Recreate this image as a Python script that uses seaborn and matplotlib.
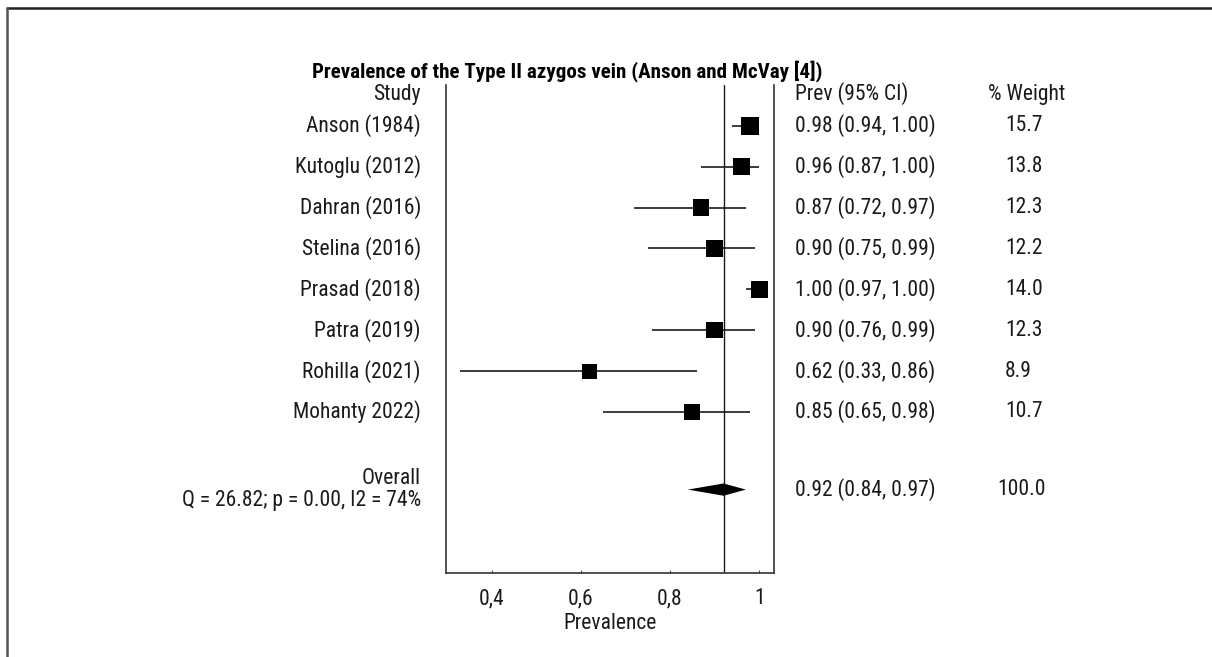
import matplotlib
matplotlib.use("Agg")
import matplotlib.pyplot as plt
import matplotlib.transforms as mtransforms
from matplotlib.lines import Line2D
import seaborn as sns
import pandas as pd
import numpy as np
from matplotlib import font_manager

# ---------------- data ----------------
studies = ["Anson (1984)", "Kutoglu (2012)", "Dahran (2016)", "Stelina (2016)",
           "Prasad (2018)", "Patra (2019)", "Rohilla (2021)", "Mohanty 2022)"]
prev = [0.98, 0.96, 0.87, 0.90, 1.00, 0.90, 0.62, 0.85]
ci_low = [0.94, 0.87, 0.72, 0.75, 0.97, 0.76, 0.33, 0.65]
ci_high = [1.00, 1.00, 0.97, 0.99, 1.00, 0.99, 0.86, 0.98]
weights = [15.7, 13.8, 12.3, 12.2, 14.0, 12.3, 8.9, 10.7]

overall_prev = 0.92
overall_low = 0.84
overall_high = 0.97
overall_weight = 100.0
heterogeneity = "Q = 26.82; p = 0.00, I2 = 74%"

tick_values = [0.4, 0.6, 0.8, 1.0]
tick_labels = ["0,4", "0,6", "0,8", "1"]

title = "Prevalence of the Type II azygos vein (Anson and McVay [4])"

# ---------------- style ----------------
sns.set_theme(style="white")
avail = {f.name for f in font_manager.fontManager.ttflist}
fam = "Roboto Condensed" if "Roboto Condensed" in avail else "Liberation Sans"
plt.rcParams["font.family"] = [fam, "DejaVu Sans"]
INK = "#1a1a1a"

fig = plt.figure(figsize=(12.12, 6.57), dpi=100)
renderer = fig.canvas.get_renderer()


def fit_size(text, target_px, weight="normal", base=13.0):
    t = fig.text(0, 0, text, fontsize=base, fontweight=weight)
    w = t.get_window_extent(renderer).width
    t.remove()
    return base * target_px / w


FS = fit_size("0.98 (0.94, 1.00)", 140)
FS_T = fit_size(title, 508, weight="bold")

df = pd.DataFrame({"study": studies, "prev": prev, "lo": ci_low,
                   "hi": ci_high, "w": weights, "row": np.arange(len(studies))})
overall_row = 8.9

ax = fig.add_axes([0.368, 0.1279, 0.2706, 0.7427])

# CI lines
ax.hlines(df["row"], df["lo"], df["hi"], color=INK, lw=1.2, zorder=2)
# squares
sns.scatterplot(data=df, x="prev", y="row", size="w", sizes=(118, 162),
                size_norm=(min(weights), max(weights)), marker="s",
                color="black", edgecolor="black", linewidth=0, legend=False,
                ax=ax, zorder=3)
# overall line
ax.axvline(overall_prev, color=INK, lw=1.0, zorder=1)
# diamond
dh = 0.15
ax.fill([overall_low, overall_prev, overall_high, overall_prev],
        [overall_row, overall_row - dh, overall_row, overall_row + dh],
        color="black", lw=0, zorder=3)

ax.set_xlim(0.298, 1.033)
ax.set_ylim(10.94, -1.0)
ax.set_yticks([])
ax.set_xticks(tick_values)
ax.set_xticklabels(tick_labels, fontsize=FS)
ax.tick_params(axis="x", direction="in", length=2, width=0.8, color="#555555",
               pad=11, labelcolor=INK, bottom=True)
ax.set_xlabel("Prevalence", fontsize=FS, color=INK, labelpad=3)
ax.set_ylabel("")
for s in ["left", "right", "bottom"]:
    ax.spines[s].set_visible(True)
    ax.spines[s].set_color("#333333")
    ax.spines[s].set_linewidth(1.2)
ax.spines["top"].set_visible(False)

# ---------------- text columns ----------------
tr = mtransforms.blended_transform_factory(fig.transFigure, ax.transData)
x_study = 421 / 1212
x_prev = 795 / 1212
x_wt = 1005 / 1212
x_wt_head = 988 / 1212
x_wt_over = 997 / 1212
head_row = -0.78

kw = dict(fontsize=FS, color=INK, transform=tr, clip_on=False, va="center")
ax.text(x_study, head_row, "Study", ha="right", **kw)
ax.text(x_prev, head_row, "Prev (95% CI)", ha="left", **kw)
ax.text(x_wt_head, head_row, "% Weight", ha="left", **kw)

for i, r in df.iterrows():
    ax.text(x_study, r["row"], r["study"], ha="right", **kw)
    ax.text(x_prev, r["row"], f"{r['prev']:.2f} ({r['lo']:.2f}, {r['hi']:.2f})", ha="left", **kw)
    ax.text(x_wt, r["row"], f"{r['w']:.1f}", ha="left", **kw)

ax.text(x_study, overall_row - 0.27, "Overall", ha="right", **kw)
ax.text(x_study, overall_row + 0.27, heterogeneity, ha="right", **kw)
ax.text(x_prev, overall_row, f"{overall_prev:.2f} ({overall_low:.2f}, {overall_high:.2f})", ha="left", **kw)
ax.text(x_wt_over, overall_row, f"{overall_weight:.1f}", ha="left", **kw)

fig.text(567 / 1212, 1 - 71 / 657, title, ha="center", va="center", fontsize=FS_T,
         fontweight="bold", color="black")

# outer frame (top and left)
fig.add_artist(Line2D([7 / 1212, 1.0], [1 - 8 / 657, 1 - 8 / 657], transform=fig.transFigure, color="#222222", lw=1.8))
fig.add_artist(Line2D([7 / 1212, 7 / 1212], [0, 1 - 8 / 657], transform=fig.transFigure, color="#555555", lw=1.8))

fig.savefig("out.png", dpi=100, facecolor="white")
